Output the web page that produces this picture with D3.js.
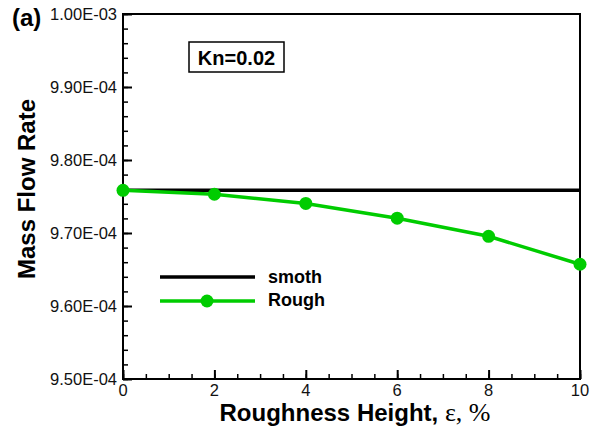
<!DOCTYPE html>
<html><head><meta charset="utf-8">
<script src="https://cdn.jsdelivr.net/npm/d3@7"></script>
<style>body{margin:0;background:#fff;} svg{display:block;}</style>
</head><body>
<script>
const roughX = [0, 2, 4, 6, 8, 10];
const roughY = [9.7585e-4, 9.7531e-4, 9.7405e-4, 9.7203e-4, 9.6955e-4, 9.6572e-4];
const smoothX = [0, 10];
const smoothY = [9.7585e-4, 9.7585e-4];
const yTicks = [9.5e-4, 9.6e-4, 9.7e-4, 9.8e-4, 9.9e-4, 1.0e-3];
const yTickLabels = ["9.50E-04", "9.60E-04", "9.70E-04", "9.80E-04", "9.90E-04", "1.00E-03"];
const xTicks = [0, 2, 4, 6, 8, 10];
const legendLabels = ["smoth", "Rough"];

const W = 600, H = 433;
const m = {l: 123, r: 580, t: 14, b: 379};
const svg = d3.select("body").append("svg").attr("width", W).attr("height", H);
const x = d3.scaleLinear().domain([0, 10]).range([m.l, m.r]);
const y = d3.scaleLinear().domain([9.5e-4, 1.0e-3]).range([m.b, m.t]);
const font = "Arial, 'Liberation Sans', sans-serif";
const green = "#00cc00";

svg.append("rect").attr("x", m.l).attr("y", m.t).attr("width", m.r - m.l).attr("height", m.b - m.t)
  .attr("fill", "none").attr("stroke", "#000").attr("stroke-width", 2);

const yMinor = d3.range(0, 26).map(i => 9.5e-4 + i * 2e-6);
const yAx = svg.append("g").attr("transform", `translate(${m.l},0)`)
  .call(d3.axisRight(y).tickValues(yMinor).tickSize(5).tickFormat(""));
yAx.select(".domain").remove();
yAx.selectAll("line").attr("stroke-width", 1.5);
const yAx2 = svg.append("g").attr("transform", `translate(${m.l},0)`)
  .call(d3.axisRight(y).tickValues(yTicks).tickSize(9).tickFormat(""));
yAx2.select(".domain").remove();
yAx2.selectAll("line").attr("stroke-width", 2);
svg.append("g").selectAll("text").data(yTicks).join("text")
  .attr("x", m.l - 6).attr("y", d => y(d) + 6).attr("text-anchor", "end")
  .style("font-family", font).style("font-size", "16.5px").attr("fill", "#111")
  .text((d, i) => yTickLabels[i]);

const xMinor = d3.range(0, 21).map(i => i * 0.5);
const xAx = svg.append("g").attr("transform", `translate(0,${m.b})`)
  .call(d3.axisTop(x).tickValues(xMinor).tickSize(5).tickFormat(""));
xAx.select(".domain").remove();
xAx.selectAll("line").attr("stroke-width", 1.5);
const xAx2 = svg.append("g").attr("transform", `translate(0,${m.b})`)
  .call(d3.axisTop(x).tickValues(xTicks).tickSize(9).tickFormat(""));
xAx2.select(".domain").remove();
xAx2.selectAll("line").attr("stroke-width", 2);
svg.append("g").selectAll("text").data(xTicks).join("text")
  .attr("x", d => x(d)).attr("y", m.b + 17).attr("text-anchor", "middle")
  .style("font-family", font).style("font-size", "16.5px").attr("fill", "#111")
  .text(d => d);

const line = d3.line().x(d => x(d[0])).y(d => y(d[1]));
svg.append("path").datum(smoothX.map((v, i) => [v, smoothY[i]])).attr("d", line)
  .attr("fill", "none").attr("stroke", "#000").attr("stroke-width", 3.5);
svg.append("path").datum(roughX.map((v, i) => [v, roughY[i]])).attr("d", line)
  .attr("fill", "none").attr("stroke", green).attr("stroke-width", 3.5);
svg.append("g").selectAll("circle").data(roughX.map((v, i) => [v, roughY[i]])).join("circle")
  .attr("cx", d => x(d[0])).attr("cy", d => y(d[1])).attr("r", 6.5).attr("fill", green);

svg.append("line").attr("x1", 160).attr("x2", 255).attr("y1", 277).attr("y2", 277)
  .attr("stroke", "#000").attr("stroke-width", 3.5);
svg.append("line").attr("x1", 160).attr("x2", 255).attr("y1", 301).attr("y2", 301)
  .attr("stroke", green).attr("stroke-width", 3.5);
svg.append("circle").attr("cx", 207).attr("cy", 301).attr("r", 6.5).attr("fill", green);
svg.append("g").selectAll("text").data(legendLabels).join("text")
  .attr("x", 268).attr("y", (d, i) => 283 + i * 23)
  .attr("font-family", font).attr("font-size", 18).attr("font-weight", "bold")
  .text(d => d);

svg.append("rect").attr("x", 189).attr("y", 42).attr("width", 95).attr("height", 30)
  .attr("fill", "#fff").attr("stroke", "#000").attr("stroke-width", 1.5);
svg.append("text").attr("x", 236.5).attr("y", 64.5).attr("text-anchor", "middle")
  .attr("font-family", font).attr("font-size", 20).attr("font-weight", "bold").text("Kn=0.02");

svg.append("text").attr("x", 12).attr("y", 26).attr("font-family", font)
  .attr("font-size", 24).attr("font-weight", "bold").text("(a)");

svg.append("text").attr("transform", "translate(35,189) rotate(-90)").attr("text-anchor", "middle")
  .attr("font-family", font).attr("font-size", 24).attr("font-weight", "bold").text("Mass Flow Rate");
const xt = svg.append("text").attr("x", 355).attr("y", 421).attr("text-anchor", "middle")
  .attr("font-family", font).attr("font-size", 24).attr("font-weight", "bold");
xt.append("tspan").text("Roughness Height, ");
xt.append("tspan").attr("font-family", "'Liberation Serif', 'Times New Roman', serif")
  .attr("font-weight", "normal").attr("font-size", 26).text("ε, %");
</script>
</body></html>
